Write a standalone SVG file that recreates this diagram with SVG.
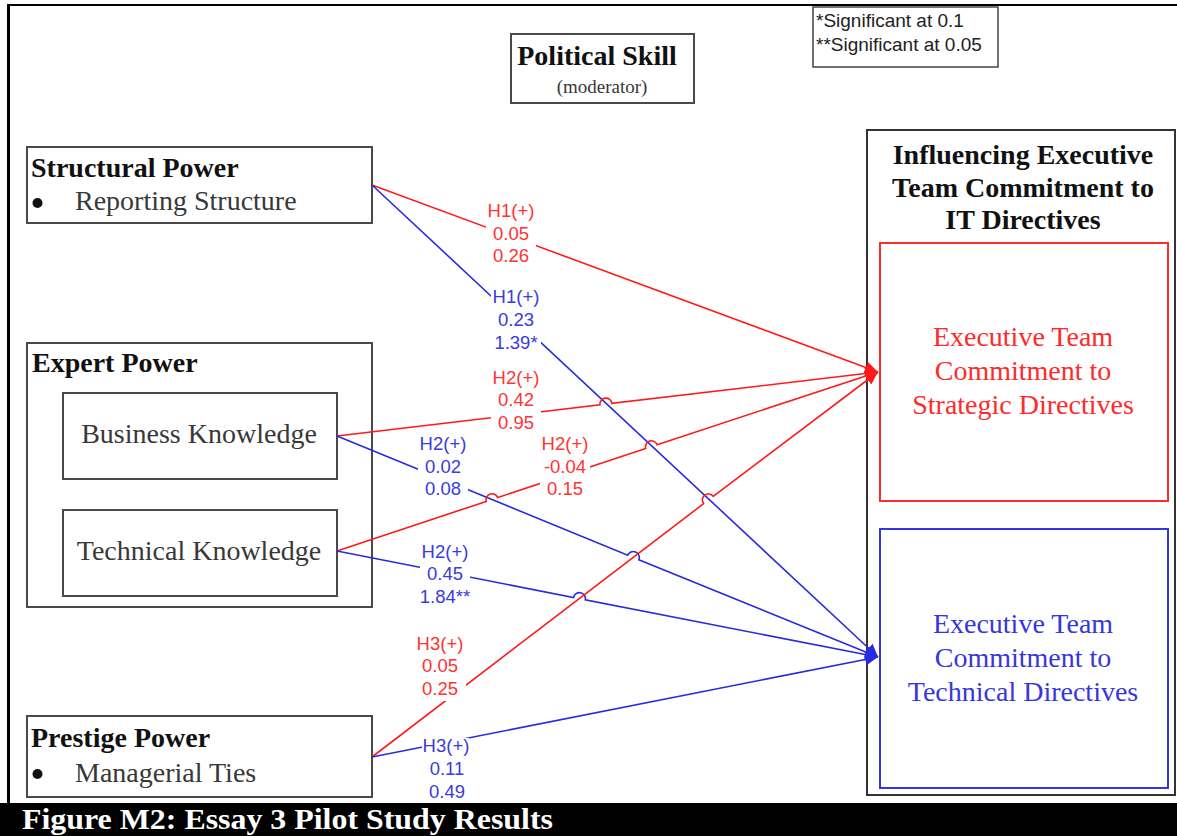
<svg xmlns="http://www.w3.org/2000/svg" width="1177" height="836" viewBox="0 0 1177 836">
  <defs>
    <style>
      .box{fill:#fff;stroke:#4a4a4a;stroke-width:2}
      .hd{font-family:"Liberation Serif","Times New Roman",serif;font-weight:bold;font-size:28px;fill:#111}
      .tx{font-family:"Liberation Serif","Times New Roman",serif;font-size:28px;fill:#383838}
      .mid{text-anchor:middle}
      .lr{fill:none;stroke:#ff1a1a;stroke-width:1.6}
      .lb{fill:none;stroke:#2a2ae0;stroke-width:1.6}
      .lab{font-family:"Liberation Sans",Arial,sans-serif;font-size:18.5px;text-anchor:middle}
      .labr{fill:#ff3333}
      .labb{fill:#3a3adf}
      .mask{fill:#fff}
      .leg{font-family:"Liberation Sans",Arial,sans-serif;font-size:19px;fill:#222}
    </style>
    <marker id="ar" markerUnits="userSpaceOnUse" markerWidth="14" markerHeight="12" refX="13" refY="6" orient="auto">
      <path d="M0,0 L13,6 L0,12 z" fill="#ff1a1a"/>
    </marker>
    <marker id="ab" markerUnits="userSpaceOnUse" markerWidth="14" markerHeight="12" refX="13" refY="6" orient="auto">
      <path d="M0,0 L13,6 L0,12 z" fill="#2a2ae0"/>
    </marker>
  </defs>

  <rect width="1177" height="836" fill="#fff"/>

  <!-- page frame -->
  <g id="frame">
    <line x1="8.5" y1="4" x2="8.5" y2="803" stroke="#000" stroke-width="3"/>
    <line x1="7" y1="5" x2="1177" y2="5" stroke="#000" stroke-width="2"/>
  </g>

  <!-- legend -->
  <g id="legend">
    <rect x="813" y="7" width="185" height="60" fill="#fff" stroke="#444" stroke-width="1.5"/>
    <text class="leg" x="816" y="27">*Significant at 0.1</text>
    <text class="leg" x="816" y="51">**Significant at 0.05</text>
  </g>

  <!-- moderator -->
  <g id="political-skill">
    <rect class="box" x="511" y="34" width="183" height="69"/>
    <text class="hd mid" x="597" y="65">Political Skill</text>
    <text class="tx mid" x="602" y="93" style="font-size:19px">(moderator)</text>
  </g>

  <!-- predictors -->
  <g id="structural-power">
    <rect class="box" x="27" y="147" width="345" height="76"/>
    <text class="hd" x="31" y="177">Structural Power</text>
    <circle cx="37.5" cy="203" r="5" fill="#111"/>
    <text class="tx" x="75" y="210">Reporting Structure</text>
  </g>

  <g id="expert-power">
    <rect class="box" x="27" y="343" width="345" height="264"/>
    <text class="hd" x="32" y="372">Expert Power</text>
  </g>

  <g id="business-knowledge">
    <rect class="box" x="63" y="393" width="274" height="86"/>
    <text class="tx mid" x="199" y="443">Business Knowledge</text>
  </g>

  <g id="technical-knowledge">
    <rect class="box" x="63" y="510" width="274" height="86"/>
    <text class="tx mid" x="199" y="560">Technical Knowledge</text>
  </g>

  <g id="prestige-power">
    <rect class="box" x="27" y="716" width="345" height="81"/>
    <text class="hd" x="31" y="747">Prestige Power</text>
    <circle cx="37.5" cy="774" r="5" fill="#111"/>
    <text class="tx" x="75" y="782">Managerial Ties</text>
  </g>

  <!-- outcomes -->
  <g id="it-directives">
    <rect x="867" y="130" width="308" height="665" fill="#fff" stroke="#333" stroke-width="2"/>
    <text class="hd mid" x="1023" y="164">Influencing Executive</text>
    <text class="hd mid" x="1023" y="197">Team Commitment to</text>
    <text class="hd mid" x="1023" y="229">IT Directives</text>
  </g>

  <g id="strategic">
    <rect x="880" y="243" width="288" height="258" fill="#fff" stroke="#ff2a2a" stroke-width="2"/>
    <text class="tx mid" x="1023" y="346" style="fill:#ff2a2a">Executive Team</text>
    <text class="tx mid" x="1023" y="380" style="fill:#ff2a2a">Commitment to</text>
    <text class="tx mid" x="1023" y="414" style="fill:#ff2a2a">Strategic Directives</text>
  </g>

  <g id="technical">
    <rect x="880" y="529" width="288" height="259" fill="#fff" stroke="#3636e0" stroke-width="2"/>
    <text class="tx mid" x="1023" y="633" style="fill:#3636e0">Executive Team</text>
    <text class="tx mid" x="1023" y="667" style="fill:#3636e0">Commitment to</text>
    <text class="tx mid" x="1023" y="701" style="fill:#3636e0">Technical Directives</text>
  </g>

  <!-- paths with line jumps -->
  <g id="connectors">
    <path class="lr" marker-end="url(#ar)" d="M372,185 L878,372"/>
    <path class="lb" marker-end="url(#ab)" d="M372,185 L878,657"/>
    <path class="lr" marker-end="url(#ar)" d="M337,436 L599.94,404.81 A6,6 0 0,1 611.86,403.39 L878,372"/>
    <path class="lb" marker-end="url(#ab)" d="M337,436 L627.75,555.22 A6,6 0 0,1 638.85,559.78 L878,657"/>
    <path class="lr" marker-end="url(#ar)" d="M337,551 L486.31,501.39 A6,6 0 0,1 497.69,497.61 L645.71,448.49 A6,6 0 0,1 657.09,444.71 L878,372"/>
    <path class="lb" marker-end="url(#ab)" d="M337,551 L573.51,597.44 A6,6 0 0,1 585.29,599.76 L878,657"/>
    <path class="lr" marker-end="url(#ar)" d="M372,757 L703.63,503.64 A6,6 0 0,1 713.17,496.36 L878,372"/>
    <path class="lb" marker-end="url(#ab)" d="M372,757 L878,657"/>
  </g>

  <!-- path coefficients -->
  <g id="labels">
    <g class="labr">
      <rect class="mask" x="486" y="201" width="50" height="66"/>
      <text class="lab" x="511" y="217">H1(+)</text>
      <text class="lab" x="511" y="240">0.05</text>
      <text class="lab" x="511" y="262">0.26</text>
    </g>
    <g class="labb">
      <rect class="mask" x="491" y="287" width="50" height="67"/>
      <text class="lab" x="516" y="303">H1(+)</text>
      <text class="lab" x="516" y="326">0.23</text>
      <text class="lab" x="516" y="349">1.39*</text>
    </g>
    <g class="labr">
      <rect class="mask" x="491" y="368" width="50" height="66"/>
      <text class="lab" x="516" y="384">H2(+)</text>
      <text class="lab" x="516" y="406">0.42</text>
      <text class="lab" x="516" y="429">0.95</text>
    </g>
    <g class="labb">
      <rect class="mask" x="418" y="434" width="50" height="66"/>
      <text class="lab" x="443" y="450">H2(+)</text>
      <text class="lab" x="443" y="473">0.02</text>
      <text class="lab" x="443" y="495">0.08</text>
    </g>
    <g class="labr">
      <rect class="mask" x="540" y="434" width="50" height="66"/>
      <text class="lab" x="565" y="450">H2(+)</text>
      <text class="lab" x="565" y="473">-0.04</text>
      <text class="lab" x="565" y="495">0.15</text>
    </g>
    <g class="labb">
      <rect class="mask" x="420" y="542" width="50" height="66"/>
      <text class="lab" x="445" y="558">H2(+)</text>
      <text class="lab" x="445" y="580">0.45</text>
      <text class="lab" x="445" y="603">1.84**</text>
    </g>
    <g class="labr">
      <rect class="mask" x="415" y="634" width="51" height="67"/>
      <text class="lab" x="440" y="650">H3(+)</text>
      <text class="lab" x="440" y="672">0.05</text>
      <text class="lab" x="440" y="695">0.25</text>
    </g>
    <g class="labb">
      <rect class="mask" x="422" y="738" width="47" height="64"/>
      <text class="lab" x="446" y="752">H3(+)</text>
      <text class="lab" x="447" y="775">0.11</text>
      <text class="lab" x="447" y="798">0.49</text>
    </g>
  </g>

  <!-- caption band -->
  <g id="caption">
    <rect x="0" y="803" width="1177" height="33" fill="#000"/>
    <text x="22" y="829" textLength="531" lengthAdjust="spacingAndGlyphs" style="font-family:'Liberation Serif','Times New Roman',serif;font-weight:bold;font-size:29px;fill:#fff">Figure M2: Essay 3 Pilot Study Results</text>
  </g>
</svg>
